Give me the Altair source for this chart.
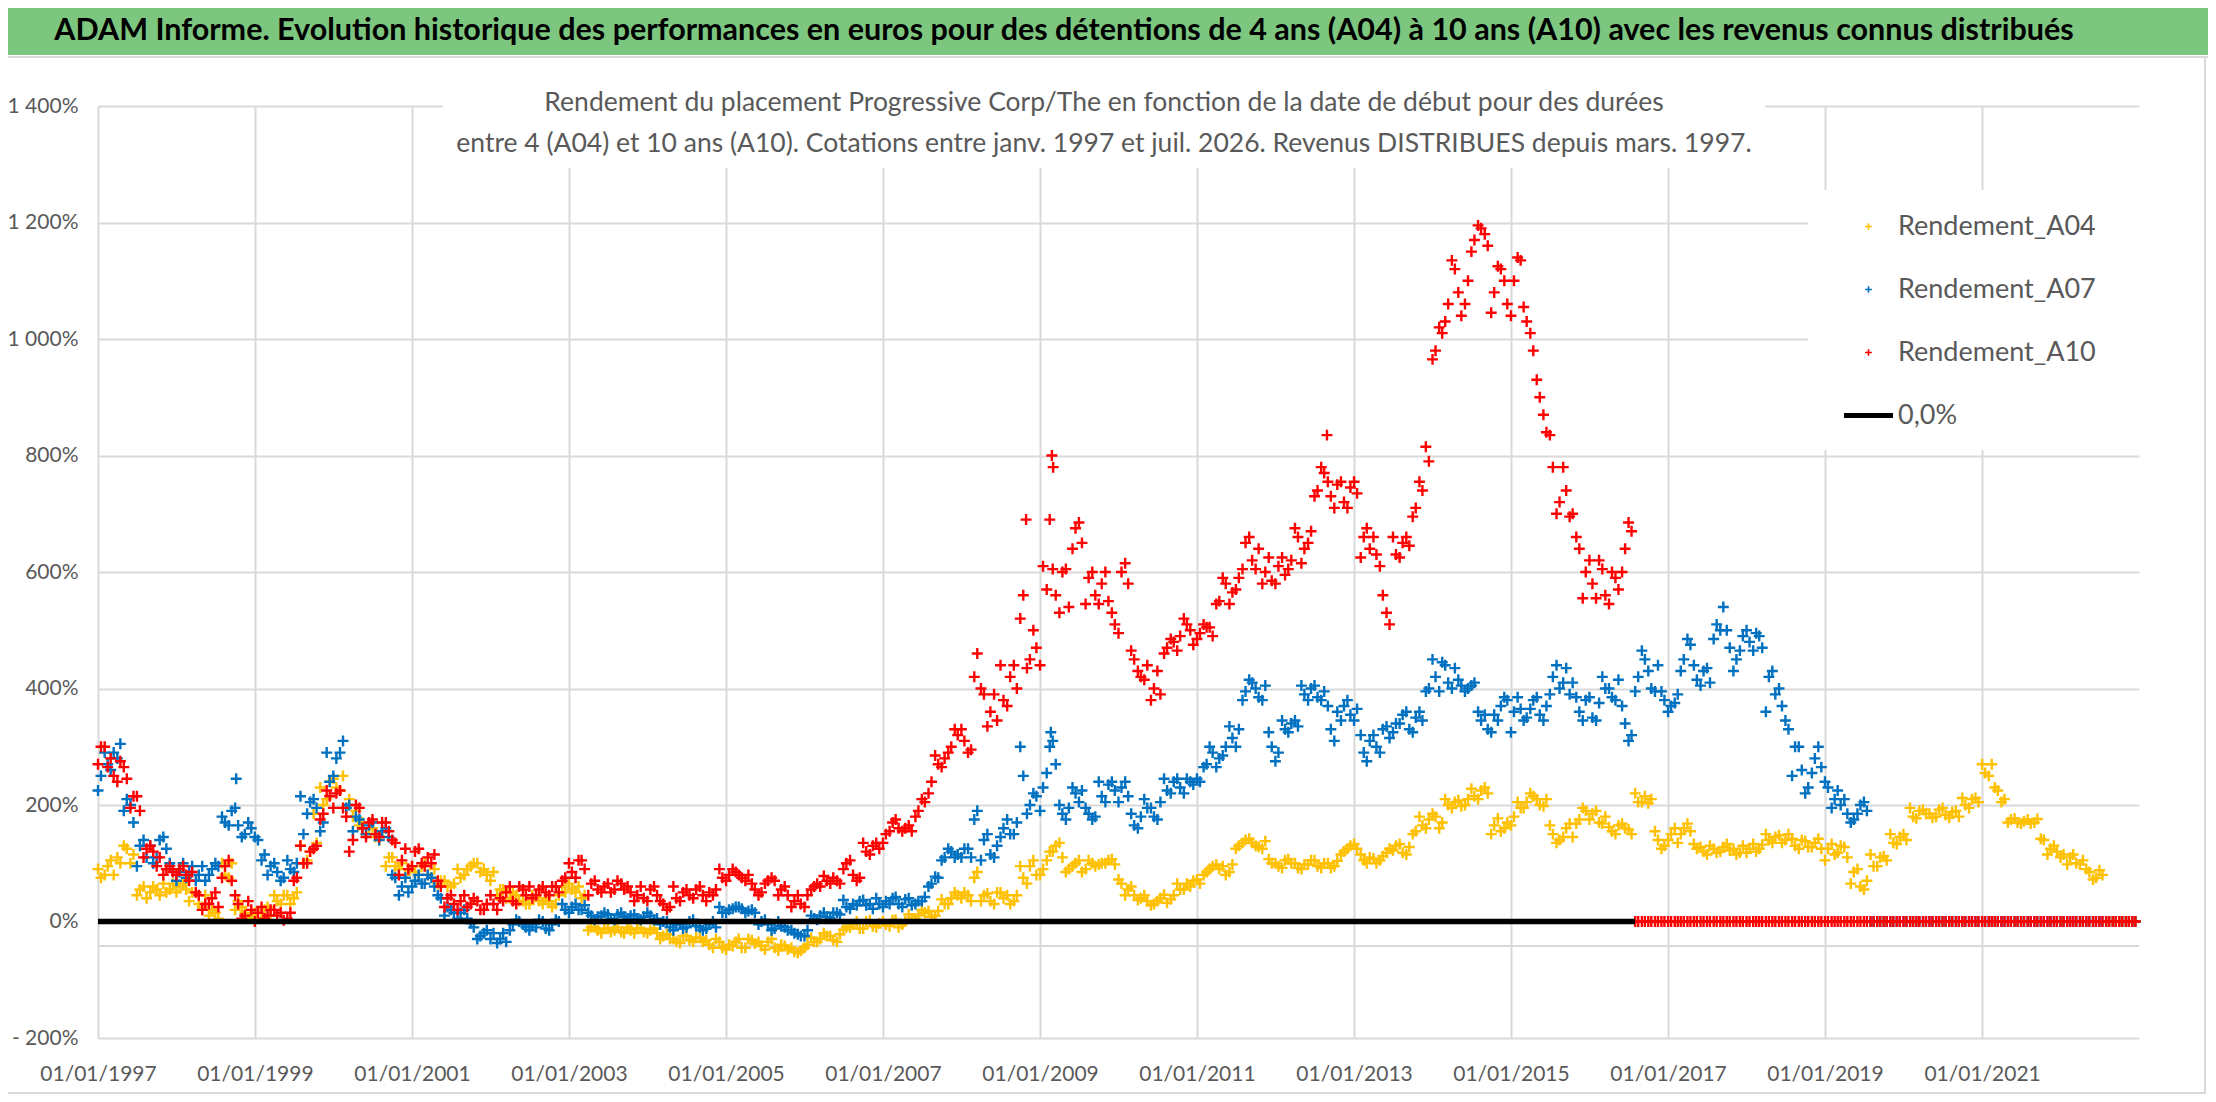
import altair as alt
import pandas as pd

FONT = "Lato"
GREY = "#595959"

TITLE = ("ADAM Informe. Evolution historique des performances en euros pour des détentions "
         "de 4 ans (A04) à 10 ans (A10) avec les revenus connus distribués")
SUBTITLE_1 = "Rendement du placement Progressive Corp/The en fonction de la date de début pour des durées"
SUBTITLE_2 = ("entre 4 (A04) et 10 ans (A10). Cotations entre janv. 1997 et juil. 2026. "
              "Revenus DISTRIBUES depuis mars. 1997.")

SERIES = ["Rendement_A04", "Rendement_A07", "Rendement_A10", "0,0%"]
COLORS = ["#FFC000", "#0070C0", "#FF0000", "#000000"]
PLUS = "M-1,0H1M0,-1V1"
DASH = "M-7.3,0H7.3"

TICK_YEARS = [1997, 1999, 2001, 2003, 2005, 2007, 2009, 2011, 2013, 2015, 2017, 2019, 2021]
Y_TICKS = [-200, 0, 200, 400, 600, 800, 1000, 1200, 1400]
EXTRA_GRID = -42

# rendements (%) relevés au milieu de chaque mois depuis janv. 1997
A04 = [
    75, 95, 80, 100, 125, 115, 55, 40, 60, 45, 50, 65,
    60, 55, 50, 30, 45, 20, 5, 80, 100, 35, 15, 10,
    5, 20, 10, 35, 45, 30, 50, 100, 120, 135, 200, 240,
    230, 250, 210, 190, 170, 160, 145, 155, 110, 95, 100, 90,
    85, 95, 80, 90, 70, 60, 65, 75, 90, 100, 85, 80,
    85, 55, 40, 50, 35, 30, 45, 35, 40, 25, 45, 50,
    55, 60, 45, -10, -15, -12, -18, -10, -20, -15, -12, -18,
    -15, -20, -25, -30, -35, -25, -32, -28, -35, -40, -30, -45,
    -40, -35, -45, -30, -38, -42, -35, -45, -40, -48, -52, -50,
    -40, -35, -30, -25, -32, -22, -10, -5, -12, 0, -8, -3,
    -5, 2, -10, 0, 5, 10, 15, 8, 18, 30, 40, 45,
    50, 35, 85, 45, 35, 50, 40, 30, 45, 75, 95, 80,
    90, 120, 130, 110, 90, 100, 85, 105, 95, 100, 105, 98,
    65, 55, 45, 40, 35, 30, 40, 32, 45, 55, 65, 70,
    65, 85, 95, 90, 80, 98, 130, 140, 135, 128, 138, 100,
    95, 105, 100, 92, 98, 105, 95, 100, 92, 104, 120, 130,
    125, 105, 110, 100, 112, 125, 130, 118, 128, 155, 165, 175,
    180, 170, 200, 205, 198, 210, 215, 225, 220, 165, 155, 170,
    180, 195, 205, 215, 200, 210, 150, 140, 160, 145, 175, 190,
    185, 170, 180, 155, 165, 160, 150, 205, 215, 210, 140, 130,
    150, 135, 160, 155, 125, 120, 130, 118, 128, 122, 115, 130,
    125, 120, 132, 140, 145, 135, 150, 130, 140, 128, 135, 125,
    125, 115, 130, 110, 85, 60, 70, 95, 110, 105, 135, 145,
    140, 180, 190, 185, 178, 192, 183, 188, 180, 200, 210, 205,
    255, 270, 225, 210, 175, 170, 172, 168, 176, 140, 125, 120,
    115, 110, 100, 105, 85, 75, 80, 0, 0, 0, 0, 0,
]

A07 = [
    250, 270, 290, 305, 210, 170, 130, 110, 100, 140, 125, 90,
    85, 75, 95, 80, 70, 90, 95, 170, 190, 165, 150, 160,
    140, 115, 95, 85, 75, 90, 100, 150, 205, 195, 170, 240,
    280, 310, 200, 180, 160, 165, 150, 155, 145, 75, 60, 50,
    70, 65, 80, 60, 40, 25, 15, 15, 5, -10, -25, -15,
    -20, -30, -35, -5, 0, -10, -5, 3, -12, -5, 0, 20,
    25, 20, 28, 10, 8, 15, 5, 12, 8, 10, 5, 8,
    10, 5, 0, -10, -5, -12, 0, -8, -15, -5, -10, 15,
    20, 25, 22, 18, 15, 0, -5, -12, -8, -15, -20, -25,
    -15, 5, 10, 8, 15, 12, 25, 30, 35, 28, 22, 30,
    35, 40, 30, 38, 28, 35, 42, 65, 75, 110, 120, 115,
    125, 110, 190, 140, 115, 130, 160, 150, 170, 250, 200, 215,
    230, 300, 270, 185, 195, 220, 225, 185, 180, 215, 235, 225,
    230, 215, 165, 180, 195, 180, 205, 225, 240, 230, 245, 235,
    240, 270, 290, 280, 300, 315, 330, 395, 410, 385, 405, 300,
    290, 330, 340, 335, 390, 400, 385, 395, 330, 360, 370, 355,
    365, 290, 310, 300, 330, 315, 340, 355, 330, 350, 345, 400,
    420, 445, 410, 435, 405, 400, 410, 345, 330, 355, 370, 380,
    360, 365, 350, 380, 355, 370, 420, 400, 435, 410, 360, 380,
    350, 375, 400, 385, 415, 340, 320, 420, 450, 400, 440, 380,
    370, 390, 450, 475, 415, 430, 410, 510, 540, 470, 450, 490,
    480, 495, 470, 420, 390, 370, 330, 300, 260, 230, 280, 265,
    230, 210, 200, 185, 175, 200, 190, 0, 0, 0, 0, 0,
    0, 0, 0, 0, 0, 0, 0, 0, 0, 0, 0, 0,
    0, 0, 0, 0, 0, 0, 0, 0, 0, 0, 0, 0,
    0, 0, 0, 0, 0, 0, 0, 0, 0, 0, 0, 0,
]

A10 = [
    300, 265, 250, 275, 245, 215, 190, 125, 120, 110, 90, 85,
    90, 80, 85, 45, 30, 40, 25, 95, 70, 30, 10, 20,
    15, 5, 20, 10, 2, 15, 75, 100, 120, 130, 185, 215,
    220, 195, 120, 200, 160, 170, 150, 170, 155, 135, 105, 90,
    120, 100, 110, 115, 60, 40, 30, 35, 25, 40, 20, 30,
    30, 40, 50, 35, 60, 45, 40, 55, 50, 60, 50, 75,
    85, 105, 90, 65, 55, 60, 50, 70, 55, 50, 45, 40,
    55, 45, 30, 25, 40, 50, 45, 55, 45, 50, 55, 75,
    80, 85, 75, 80, 55, 50, 70, 70, 55, 45, 35, 30,
    45, 60, 60, 70, 75, 65, 100, 80, 75, 120, 130, 125,
    150, 170, 160, 160, 155, 190, 205, 240, 270, 280, 300, 320,
    310, 295, 460, 390, 360, 345, 380, 420, 400, 560, 450, 470,
    610, 690, 560, 600, 540, 675, 650, 590, 560, 580, 550, 510,
    600, 580, 450, 420, 440, 400, 390, 470, 480, 490, 510, 475,
    495, 505, 490, 550, 580, 565, 590, 650, 620, 640, 600, 585,
    610, 595, 620, 660, 640, 670, 740, 770, 730, 750, 720, 745,
    735, 660, 640, 630, 560, 510, 630, 650, 645, 710, 740, 790,
    980, 1010, 1060, 1120, 1040, 1100, 1170, 1190, 1160, 1080, 1120, 1060,
    1100, 1135, 1030, 980, 900, 840, 780, 720, 740, 700, 640, 600,
    580, 620, 560, 600, 570, 640, 670, 0, 0, 0, 0, 0,
    0, 0, 0, 0, 0, 0, 0, 0, 0, 0, 0, 0,
    0, 0, 0, 0, 0, 0, 0, 0, 0, 0, 0, 0,
    0, 0, 0, 0, 0, 0, 0, 0, 0, 0, 0, 0,
    0, 0, 0, 0, 0, 0, 0, 0, 0, 0, 0, 0,
    0, 0, 0, 0, 0, 0, 0, 0, 0, 0, 0, 0,
    0, 0, 0, 0, 0, 0, 0, 0, 0, 0, 0, 0,
]

# rendements (%) relevés le 1er de chaque mois (autre bord du nuage de points)
A04_B = [
    90, 80, 105, 110, 130, 100, 45, 60, 50, 55, 65, 55,
    50, 65, 35, 50, 25, 10, 15, 100, 75, 20, 25, 5,
    15, 5, 25, 45, 30, 45, 40, 130, 105, 185, 230, 210,
    245, 225, 195, 180, 165, 150, 160, 140, 95, 110, 90, 80,
    95, 80, 100, 75, 65, 70, 60, 90, 80, 95, 100, 90,
    70, 45, 55, 40, 45, 35, 30, 45, 30, 35, 30, 60,
    65, 50, 40, -15, -10, -20, -12, -15, -18, -10, -20, -12,
    -20, -12, -30, -22, -30, -37, -25, -35, -28, -32, -45, -35,
    -48, -42, -30, -45, -32, -35, -48, -30, -50, -42, -45, -54,
    -45, -28, -35, -20, -25, -35, -14, -10, 0, -12, 2, -10,
    0, -8, 3, -5, 12, 5, 20, 18, 10, 38, 30, 50,
    40, 45, 75, 35, 48, 30, 50, 45, 35, 95, 65, 105,
    80, 105, 120, 135, 85, 95, 105, 90, 100, 98, 100, 107,
    72, 45, 60, 37, 45, 28, 35, 46, 38, 65, 55, 60,
    72, 80, 90, 98, 95, 85, 125, 135, 142, 130, 125, 107,
    100, 92, 107, 100, 90, 98, 105, 92, 100, 95, 115, 125,
    133, 115, 100, 108, 105, 118, 122, 133, 115, 150, 180, 160,
    185, 160, 210, 195, 208, 200, 228, 210, 230, 150, 177, 160,
    165, 205, 195, 220, 210, 198, 165, 135, 145, 168, 168, 195,
    175, 190, 168, 162, 150, 168, 158, 220, 205, 203, 155, 125,
    140, 160, 150, 168, 133, 128, 115, 125, 120, 133, 125, 118,
    118, 133, 125, 150, 135, 148, 140, 142, 125, 138, 128, 142,
    105, 133, 118, 128, 65, 90, 55, 115, 95, 112, 150, 133,
    150, 195, 177, 192, 185, 180, 195, 178, 190, 212, 195, 212,
    270, 250, 230, 205, 170, 177, 168, 175, 170, 142, 115, 130,
    110, 98, 115, 98, 90, 72, 88, 0, 0, 0, 0, 0,
]

A07_B = [
    225, 290, 260, 280, 190, 200, 95, 140, 130, 110, 145, 100,
    70, 100, 85, 70, 95, 80, 100, 180, 165, 195, 145, 170,
    145, 105, 80, 100, 70, 105, 85, 215, 185, 210, 155, 290,
    250, 290, 195, 155, 175, 150, 170, 140, 160, 80, 45, 75,
    60, 80, 65, 75, 45, 10, 20, 5, 20, -3, -30, -20,
    -30, -37, -20, -15, 3, -5, -15, -10, 0, -15, 3, 30,
    15, 30, 20, 15, 3, 10, 12, 3, 15, 5, 12, 3,
    15, 3, -5, 0, -15, -5, -10, 3, -10, -12, 0, 25,
    15, 22, 25, 15, 20, -5, 3, -15, 0, -10, -15, -22,
    -25, 10, 3, 15, 5, 15, 37, 22, 28, 37, 30, 40,
    25, 30, 42, 25, 40, 30, 35, 60, 77, 105, 125, 110,
    110, 125, 175, 105, 150, 110, 145, 175, 150, 300, 185, 220,
    190, 255, 310, 200, 175, 230, 205, 195, 175, 240, 205, 240,
    205, 240, 185, 160, 210, 195, 175, 245, 220, 245, 220, 240,
    245, 265, 300, 265, 285, 335, 300, 380, 415, 400, 380, 325,
    275, 345, 325, 345, 405, 380, 405, 380, 370, 310, 345, 380,
    345, 320, 275, 320, 290, 335, 325, 340, 360, 325, 360, 395,
    450, 395, 440, 400, 415, 395, 405, 360, 355, 325, 345, 385,
    325, 385, 345, 365, 385, 345, 390, 440, 410, 390, 385, 345,
    385, 345, 420, 400, 380, 370, 310, 395, 465, 430, 395, 395,
    360, 375, 430, 485, 440, 405, 435, 485, 500, 500, 430, 465,
    500, 465, 490, 360, 430, 400, 345, 250, 300, 220, 255, 300,
    240, 195, 225, 210, 170, 185, 205, 0, 0, 0, 0, 0,
    0, 0, 0, 0, 0, 0, 0, 0, 0, 0, 0, 0,
    0, 0, 0, 0, 0, 0, 0, 0, 0, 0, 0, 0,
    0, 0, 0, 0, 0, 0, 0, 0, 0, 0, 0, 0,
]

A10_B = [
    270, 300, 280, 240, 265, 195, 215, 110, 130, 95, 80, 95,
    80, 95, 70, 50, 20, 30, 50, 75, 105, 45, 5, 35,
    0, 25, 10, 20, 15, 5, 70, 130, 100, 125, 175, 225,
    195, 225, 180, 140, 195, 145, 175, 145, 170, 140, 80, 125,
    95, 125, 95, 100, 70, 25, 45, 20, 45, 30, 35, 20,
    45, 20, 35, 60, 30, 55, 60, 45, 60, 45, 60, 70,
    100, 75, 105, 45, 70, 50, 65, 55, 65, 60, 35, 60,
    35, 60, 35, 20, 60, 35, 55, 40, 60, 35, 45, 90,
    70, 90, 80, 70, 65, 45, 65, 75, 45, 60, 25, 45,
    25, 55, 65, 78, 65, 70, 90, 105, 70, 135, 115, 135,
    135, 155, 175, 155, 165, 180, 210, 220, 285, 265, 290, 330,
    330, 290, 420, 400, 335, 390, 440, 370, 440, 520, 435, 500,
    440, 570, 605, 530, 605, 640, 685, 545, 600, 545, 600, 530,
    495, 615, 465, 430, 415, 380, 430, 460, 485, 465, 520, 500,
    485, 510, 505, 545, 590, 545, 570, 605, 660, 605, 580, 625,
    580, 625, 605, 675, 615, 650, 730, 780, 755, 710, 755, 710,
    755, 625, 675, 660, 610, 530, 660, 625, 660, 695, 755, 815,
    965, 1020, 1030, 1135, 1080, 1060, 1150, 1195, 1180, 1045, 1125, 1100,
    1040, 1140, 1055, 1010, 930, 870, 835, 700, 780, 695, 660, 555,
    620, 555, 605, 545, 590, 600, 685, 0, 0, 0, 0, 0,
    0, 0, 0, 0, 0, 0, 0, 0, 0, 0, 0, 0,
    0, 0, 0, 0, 0, 0, 0, 0, 0, 0, 0, 0,
    0, 0, 0, 0, 0, 0, 0, 0, 0, 0, 0, 0,
    0, 0, 0, 0, 0, 0, 0, 0, 0, 0, 0, 0,
    0, 0, 0, 0, 0, 0, 0, 0, 0, 0, 0, 0,
    0, 0, 0, 0, 0, 0, 0, 0, 0, 0, 0, 0,
]

# points isolés
A07_OUT_DATES = ["1998-10-06", "2009-02-20"]
A07_OUT_VALUES = [245, 325]
A10_OUT_DATES = ["2008-10-28", "2009-02-25", "2009-03-03", "2012-08-28"]
A10_OUT_VALUES = [690, 800, 780, 835]

ZERO_DATES = ["1997-01-01", "2016-07-31"]
ZERO_VALUES = [0, 0]


def monthly(values, name, day):
    dates = pd.date_range("1997-01-01", periods=len(values), freq="MS") + pd.Timedelta(days=day)
    return pd.DataFrame({"date": dates, "val": values, "serie": name})


def extra(dates, values, name):
    return pd.DataFrame({"date": pd.to_datetime(dates), "val": values, "serie": name})


df = pd.concat([
    monthly(A04, "Rendement_A04", 14),
    monthly(A04_B, "Rendement_A04", 0),
    monthly(A07, "Rendement_A07", 14),
    monthly(A07_B, "Rendement_A07", 0),
    extra(A07_OUT_DATES, A07_OUT_VALUES, "Rendement_A07"),
    monthly(A10, "Rendement_A10", 14),
    monthly(A10_B, "Rendement_A10", 0),
    extra(A10_OUT_DATES, A10_OUT_VALUES, "Rendement_A10"),
], ignore_index=True)
df["ordre"] = range(len(df))

zero_df = pd.DataFrame({"date": pd.to_datetime(ZERO_DATES), "val": ZERO_VALUES})

x_scale = alt.Scale(domain=[alt.DateTime(year=1997, month=1, date=1),
                            alt.DateTime(year=2023, month=1, date=1)])
y_scale = alt.Scale(domain=[-200, 1400], nice=False)

legend = alt.Legend(
    title=None, orient="none", legendX=1757, legendY=107, padding=0,
    labelFont=FONT, labelFontSize=27, labelColor=GREY, labelOffset=16, labelLimit=0,
    symbolSize=45, rowPadding=35,
    symbolStrokeWidth={"expr": "datum.value === '0,0%' ? 5 : 1.6"},
)

y_label = ("datum.value < 0 ? '- ' + format(-datum.value, 'd') + '%' : "
           "(datum.value >= 1000 ? floor(datum.value / 1000) + ' ' + format(datum.value % 1000, '03d') + '%' "
           ": datum.value + '%')")

points = alt.Chart(df).mark_point(filled=False, strokeWidth=2.4, size=120, opacity=1).encode(
    x=alt.X("date:T", scale=x_scale, title=None, axis=alt.Axis(
        values=[alt.DateTime(year=y, month=1, date=1) for y in TICK_YEARS],
        format="%d/%m/%Y", labelFont=FONT, labelFontSize=21, labelColor=GREY,
        labelPadding=25, ticks=False, tickSize=0, domain=False, labelFlush=False,
        grid=True, gridColor="#d9d9d9", gridWidth=2)),
    y=alt.Y("val:Q", scale=y_scale, title=None, axis=alt.Axis(
        values=Y_TICKS, labelExpr=y_label, labelFont=FONT, labelFontSize=21,
        labelColor=GREY, labelPadding=20, ticks=False, tickSize=0, domain=False,
        grid=True, gridColor="#d9d9d9", gridWidth=2)),
    color=alt.Color("serie:N", scale=alt.Scale(domain=SERIES, range=COLORS), legend=legend),
    shape=alt.Shape("serie:N", scale=alt.Scale(domain=SERIES, range=[PLUS, PLUS, PLUS, DASH]),
                    legend=legend),
    order=alt.Order("ordre:Q"),
)

zero_line = alt.Chart(zero_df).mark_line(color="black", strokeWidth=5.5).encode(
    x="date:T", y="val:Q")

extra_rule = alt.Chart(pd.DataFrame({"v": [EXTRA_GRID]})).mark_rule(
    color="#d9d9d9", strokeWidth=2).encode(y="v:Q")

one = pd.DataFrame({"k": [0]})


def box(x0, x1, y0, y1, fill):
    return alt.Chart(one).mark_rect(color=fill).encode(
        x=alt.value(x0), x2=alt.value(x1), y=alt.value(y0), y2=alt.value(y1))


def label(text, x, y, size, color, weight="normal"):
    return alt.Chart(pd.DataFrame({"t": [text]})).mark_text(
        font=FONT, fontSize=size, color=color, fontWeight=weight,
        align="center", baseline="middle").encode(
        text="t:N", x=alt.value(x), y=alt.value(y))


chart = alt.layer(
    # bandeau titre et cadre
    box(-90, 2110, -98, -51, "#7DC67F"),
    box(-90, 2110, -50, -48, "#d9d9d9"),
    box(2106, 2108, -48, 988, "#d9d9d9"),
    box(-90, 2108, 986, 988, "#d9d9d9"),
    label(TITLE, 966, -75, 30.5, "black", "bold"),
    # fonds blancs du sous-titre et de la légende
    box(345, 1667, -26, 62, "white"),
    box(1710, 2043, 84, 344, "white"),
    extra_rule,
    points,
    zero_line,
    label(SUBTITLE_1, 1006, -3, 26.5, GREY),
    label(SUBTITLE_2, 1006, 38, 26.5, GREY),
).properties(
    width=2041, height=932,
    autosize=alt.AutoSizeParams(type="none"),
    padding={"left": 90, "top": 98, "right": 69, "bottom": 56},
    background="white",
).configure_view(stroke=None)

chart.save("out.html", embed_options={"renderer": "svg", "actions": False})
